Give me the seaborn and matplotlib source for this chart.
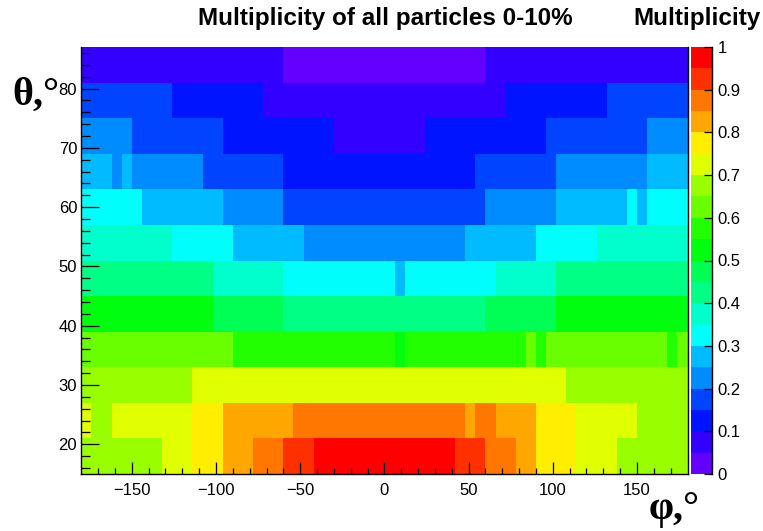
import colorsys
import numpy as np
import pandas as pd
import matplotlib
matplotlib.use("Agg")
import matplotlib.pyplot as plt
from matplotlib.colors import ListedColormap
import seaborn as sns

# ---------------- data ----------------
phi_low, phi_high, phi_step = -180, 180, 6
theta_low, theta_high, theta_step = 15, 87, 6

# multiplicity per (theta row, phi column); rows from theta 15-21 (bottom) upward
row_15 = [0.67, 0.67, 0.67, 0.67, 0.67, 0.67, 0.67, 0.67, 0.72, 0.72,
          0.72, 0.77, 0.77, 0.77, 0.82, 0.82, 0.82, 0.87, 0.87, 0.87,
          0.92, 0.92, 0.92, 0.97, 0.97, 0.97, 0.97, 0.97, 0.97, 0.97,
          0.97, 0.97, 0.97, 0.97, 0.97, 0.97, 0.97, 0.92, 0.92, 0.92,
          0.87, 0.87, 0.87, 0.82, 0.82, 0.77, 0.77, 0.77, 0.77, 0.72,
          0.72, 0.72, 0.72, 0.67, 0.67, 0.67, 0.67, 0.67, 0.67, 0.67]
row_21 = [0.72, 0.67, 0.67, 0.72, 0.72, 0.72, 0.72, 0.72, 0.72, 0.72,
          0.72, 0.77, 0.77, 0.77, 0.82, 0.82, 0.82, 0.82, 0.82, 0.82,
          0.82, 0.87, 0.87, 0.87, 0.87, 0.87, 0.87, 0.87, 0.87, 0.87,
          0.87, 0.87, 0.87, 0.87, 0.87, 0.87, 0.87, 0.87, 0.82, 0.87,
          0.87, 0.82, 0.82, 0.82, 0.82, 0.77, 0.77, 0.77, 0.77, 0.72,
          0.72, 0.72, 0.72, 0.72, 0.72, 0.67, 0.67, 0.67, 0.67, 0.67]
row_27 = [0.67, 0.67, 0.67, 0.67, 0.67, 0.67, 0.67, 0.67, 0.67, 0.67,
          0.67, 0.72, 0.72, 0.72, 0.72, 0.72, 0.72, 0.72, 0.72, 0.72,
          0.72, 0.72, 0.72, 0.72, 0.72, 0.72, 0.72, 0.72, 0.72, 0.72,
          0.72, 0.72, 0.72, 0.72, 0.72, 0.72, 0.72, 0.72, 0.72, 0.72,
          0.72, 0.72, 0.72, 0.72, 0.72, 0.72, 0.72, 0.72, 0.67, 0.67,
          0.67, 0.67, 0.67, 0.67, 0.67, 0.67, 0.67, 0.67, 0.67, 0.67]
row_33 = [0.62, 0.62, 0.62, 0.62, 0.62, 0.62, 0.62, 0.62, 0.62, 0.62,
          0.62, 0.62, 0.62, 0.62, 0.62, 0.57, 0.57, 0.57, 0.57, 0.57,
          0.57, 0.57, 0.57, 0.57, 0.57, 0.57, 0.57, 0.57, 0.57, 0.57,
          0.57, 0.52, 0.57, 0.57, 0.57, 0.57, 0.57, 0.57, 0.57, 0.57,
          0.57, 0.57, 0.57, 0.57, 0.62, 0.57, 0.62, 0.62, 0.62, 0.62,
          0.62, 0.62, 0.62, 0.62, 0.62, 0.62, 0.62, 0.62, 0.57, 0.62]
row_39 = [0.52, 0.52, 0.52, 0.52, 0.52, 0.52, 0.52, 0.52, 0.52, 0.52,
          0.52, 0.52, 0.52, 0.47, 0.47, 0.47, 0.47, 0.47, 0.47, 0.47,
          0.42, 0.42, 0.42, 0.42, 0.42, 0.42, 0.42, 0.42, 0.42, 0.42,
          0.42, 0.42, 0.42, 0.42, 0.42, 0.42, 0.42, 0.42, 0.42, 0.42,
          0.47, 0.47, 0.47, 0.47, 0.47, 0.47, 0.47, 0.52, 0.52, 0.52,
          0.52, 0.52, 0.52, 0.52, 0.52, 0.52, 0.52, 0.52, 0.52, 0.52]
row_45 = [0.42, 0.42, 0.42, 0.42, 0.42, 0.42, 0.42, 0.42, 0.42, 0.42,
          0.42, 0.42, 0.42, 0.37, 0.37, 0.37, 0.37, 0.37, 0.37, 0.37,
          0.32, 0.32, 0.32, 0.32, 0.32, 0.32, 0.32, 0.32, 0.32, 0.32,
          0.32, 0.27, 0.32, 0.32, 0.32, 0.32, 0.32, 0.32, 0.32, 0.32,
          0.32, 0.37, 0.37, 0.37, 0.37, 0.37, 0.37, 0.42, 0.42, 0.42,
          0.42, 0.42, 0.42, 0.42, 0.42, 0.42, 0.42, 0.42, 0.42, 0.42]
row_51 = [0.37, 0.37, 0.37, 0.37, 0.37, 0.37, 0.37, 0.37, 0.37, 0.32,
          0.32, 0.32, 0.32, 0.32, 0.32, 0.27, 0.27, 0.27, 0.27, 0.27,
          0.27, 0.27, 0.22, 0.22, 0.22, 0.22, 0.22, 0.22, 0.22, 0.22,
          0.22, 0.22, 0.22, 0.22, 0.22, 0.22, 0.22, 0.22, 0.27, 0.27,
          0.27, 0.27, 0.27, 0.27, 0.27, 0.32, 0.32, 0.32, 0.32, 0.32,
          0.32, 0.37, 0.37, 0.37, 0.37, 0.37, 0.37, 0.37, 0.37, 0.37]
row_57 = [0.32, 0.32, 0.32, 0.32, 0.32, 0.32, 0.27, 0.27, 0.27, 0.27,
          0.27, 0.27, 0.27, 0.27, 0.22, 0.22, 0.22, 0.22, 0.22, 0.22,
          0.17, 0.17, 0.17, 0.17, 0.17, 0.17, 0.17, 0.17, 0.17, 0.17,
          0.17, 0.17, 0.17, 0.17, 0.17, 0.17, 0.17, 0.17, 0.17, 0.17,
          0.22, 0.22, 0.22, 0.22, 0.22, 0.22, 0.22, 0.27, 0.27, 0.27,
          0.27, 0.27, 0.27, 0.27, 0.32, 0.27, 0.32, 0.32, 0.32, 0.32]
row_63 = [0.27, 0.27, 0.27, 0.22, 0.27, 0.22, 0.22, 0.22, 0.22, 0.22,
          0.22, 0.22, 0.17, 0.17, 0.17, 0.17, 0.17, 0.17, 0.17, 0.17,
          0.12, 0.12, 0.12, 0.12, 0.12, 0.12, 0.12, 0.12, 0.12, 0.12,
          0.12, 0.12, 0.12, 0.12, 0.12, 0.12, 0.12, 0.12, 0.12, 0.17,
          0.17, 0.17, 0.17, 0.17, 0.17, 0.17, 0.17, 0.22, 0.22, 0.22,
          0.22, 0.22, 0.22, 0.22, 0.22, 0.22, 0.27, 0.27, 0.27, 0.27]
row_69 = [0.22, 0.22, 0.22, 0.22, 0.22, 0.17, 0.17, 0.17, 0.17, 0.17,
          0.17, 0.17, 0.17, 0.17, 0.12, 0.12, 0.12, 0.12, 0.12, 0.12,
          0.12, 0.12, 0.12, 0.12, 0.12, 0.07, 0.07, 0.07, 0.07, 0.07,
          0.07, 0.07, 0.07, 0.07, 0.12, 0.12, 0.12, 0.12, 0.12, 0.12,
          0.12, 0.12, 0.12, 0.12, 0.12, 0.12, 0.17, 0.17, 0.17, 0.17,
          0.17, 0.17, 0.17, 0.17, 0.17, 0.17, 0.22, 0.22, 0.22, 0.22]
row_75 = [0.17, 0.17, 0.17, 0.17, 0.17, 0.17, 0.17, 0.17, 0.17, 0.12,
          0.12, 0.12, 0.12, 0.12, 0.12, 0.12, 0.12, 0.12, 0.07, 0.07,
          0.07, 0.07, 0.07, 0.07, 0.07, 0.07, 0.07, 0.07, 0.07, 0.07,
          0.07, 0.07, 0.07, 0.07, 0.07, 0.07, 0.07, 0.07, 0.07, 0.07,
          0.07, 0.07, 0.12, 0.12, 0.12, 0.12, 0.12, 0.12, 0.12, 0.12,
          0.12, 0.12, 0.17, 0.17, 0.17, 0.17, 0.17, 0.17, 0.17, 0.17]
row_81 = [0.07, 0.07, 0.07, 0.07, 0.07, 0.07, 0.07, 0.07, 0.07, 0.07,
          0.07, 0.07, 0.07, 0.07, 0.07, 0.07, 0.07, 0.07, 0.07, 0.07,
          0.02, 0.02, 0.02, 0.02, 0.02, 0.02, 0.02, 0.02, 0.02, 0.02,
          0.02, 0.02, 0.02, 0.02, 0.02, 0.02, 0.02, 0.02, 0.02, 0.02,
          0.07, 0.07, 0.07, 0.07, 0.07, 0.07, 0.07, 0.07, 0.07, 0.07,
          0.07, 0.07, 0.07, 0.07, 0.07, 0.07, 0.07, 0.07, 0.07, 0.07]
rows = [row_15, row_21, row_27, row_33, row_39, row_45,
        row_51, row_57, row_63, row_69, row_75, row_81]

x_major = [-150, -100, -50, 0, 50, 100, 150]
y_major = [20, 30, 40, 50, 60, 70, 80]
cbar_ticks = [0, 0.1, 0.2, 0.3, 0.4, 0.5, 0.6, 0.7, 0.8, 0.9, 1]
cbar_labels = ["0", "0.1", "0.2", "0.3", "0.4", "0.5", "0.6", "0.7", "0.8", "0.9", "1"]

title = "Multiplicity of all particles 0-10%"
cbar_title = "Multiplicity"
xlab = "φ,°"
ylab = "θ,°"

# ROOT "pretty" palette hues sampled at 20 contour levels
hues = [263.2, 252, 235.2, 224, 207.2, 196, 179.2, 168, 151.2, 140,
        123.2, 112, 95.2, 84, 67.2, 56, 39.2, 28, 11.2, 0]
palette = [colorsys.hls_to_rgb(h / 360.0, 0.5, 1.0) for h in hues]
cmap = ListedColormap(palette)

# ---------------- figure ----------------
plt.rcParams["font.family"] = ["Liberation Sans", "DejaVu Sans"]
title_size = 17.5

W, H = 763, 531
fig = plt.figure(figsize=(W / 100, H / 100), dpi=100)
L, R, T, B = 81.3, 687.5, 47, 474
ax = fig.add_axes([L / W, 1 - B / H, (R - L) / W, (B - T) / H])
cax = fig.add_axes([690.5 / W, 1 - B / H, 21.5 / W, (B - T) / H])

n_phi = int((phi_high - phi_low) / phi_step)
n_theta = int((theta_high - theta_low) / theta_step)
phi_centers = [phi_low + phi_step * (i + 0.5) for i in range(n_phi)]
theta_centers = [theta_low + theta_step * (j + 0.5) for j in range(n_theta)]
df = pd.DataFrame(np.array(rows), index=theta_centers, columns=phi_centers)

sns.heatmap(df, ax=ax, cbar_ax=cax, cmap=cmap, vmin=0, vmax=1,
            xticklabels=False, yticklabels=False, linewidths=0)
ax.set_ylim(0, n_theta)
ax.set_xlim(0, n_phi)
ax.set_xlabel("")
ax.set_ylabel("")

def px(v):
    return (v - phi_low) / phi_step

def ty(v):
    return (v - theta_low) / theta_step

ax.set_xticks([px(v) for v in x_major])
ax.set_xticklabels([f"{v}".replace("-", "\u2212") for v in x_major])
ax.set_xticks([px(v) for v in range(-170, 180, 10)], minor=True)
ax.set_yticks([ty(v) for v in y_major])
ax.set_yticklabels([str(v) for v in y_major])
ax.set_yticks([ty(v) for v in range(16, 87, 2)], minor=True)

ax.tick_params(axis="x", which="major", direction="in", length=8.8, width=0.9,
               labelsize=12, pad=6.5, top=False, bottom=True)
ax.tick_params(axis="x", which="minor", direction="in", length=4.4, width=0.9,
               top=False, bottom=True)
ax.tick_params(axis="y", which="major", direction="in", length=13, width=0.9,
               labelsize=12, pad=3, left=True, right=False)
ax.tick_params(axis="y", which="minor", direction="in", length=6.5, width=0.9,
               left=True, right=False)
for s in ["left", "bottom", "right"]:
    ax.spines[s].set_visible(True)
    ax.spines[s].set_color("black")
    ax.spines[s].set_linewidth(1.0)
ax.spines["top"].set_visible(False)

cbar = ax.collections[0].colorbar
cbar.set_ticks(cbar_ticks)
cbar.set_ticklabels(cbar_labels)
cbar.ax.minorticks_off()
cbar.outline.set_visible(False)
cbar.ax.tick_params(direction="in", length=6, width=0.9, labelsize=12, pad=4,
                    right=True, left=False)
cax.plot([1, 1], [0, 1], transform=cax.transAxes, color="black", lw=1.0, clip_on=False)

fig.text(385 / W, 1 - 19 / H, title, ha="center", va="center",
         fontsize=title_size, fontweight="bold")
fig.text(697 / W, 1 - 19 / H, cbar_title, ha="center", va="center",
         fontsize=title_size, fontweight="bold")
fig.text(12 / W, 1 - 105 / H, ylab, ha="left", va="baseline",
         fontsize=29, fontweight="bold", family=["Liberation Serif", "DejaVu Serif"])
fig.text(700 / W, 1 - 519 / H, xlab, ha="right", va="baseline",
         fontsize=29, fontweight="bold", family=["Liberation Serif", "DejaVu Serif"])

fig.savefig("out.png", dpi=100)
